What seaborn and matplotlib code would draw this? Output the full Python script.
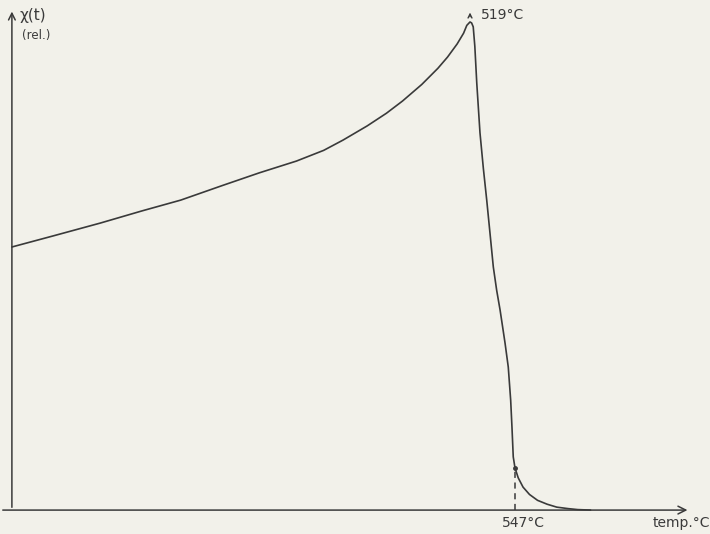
import matplotlib
matplotlib.use("Agg")
import matplotlib.pyplot as plt
import seaborn as sns
import pandas as pd

# values (temperature in °C, relative susceptibility)
temp = [234, 260, 289, 315, 339, 365, 388, 411, 428, 440, 455, 467, 477,
        489, 499, 505, 511, 515, 517, 519,
        520, 521, 522, 523.2, 525.2, 527.3, 529.4, 531.5, 533.5, 535.6, 537.7,
        539.3, 540.8, 542.8, 544.3, 545.1, 545.9, 547,
        549, 552, 556, 561, 567, 573, 580, 586, 594]
chi = [0.539, 0.562, 0.588, 0.613, 0.635, 0.665, 0.691, 0.715, 0.737, 0.758, 0.787, 0.813, 0.838,
       0.872, 0.905, 0.928, 0.955, 0.977, 0.993, 1.000,
       0.998, 0.990, 0.950, 0.875, 0.773, 0.700, 0.635, 0.565, 0.498, 0.450, 0.410,
       0.375, 0.342, 0.293, 0.225, 0.170, 0.109, 0.086,
       0.066, 0.047, 0.032, 0.020, 0.012, 0.006, 0.003, 0.001, 0.0]

peak_temp = 519
curie_temp = 547
curie_chi = 0.086

df = pd.DataFrame({"temp": temp, "chi": chi})

sns.set_style("white")
plt.rcParams["font.family"] = ["DejaVu Sans"]

bg = "#f2f1ea"
ink = "#3a3a3a"

fig = plt.figure(figsize=(7.1, 5.34), dpi=100, facecolor=bg)
ax = fig.add_axes([0, 0, 1, 1], facecolor=bg)

sns.lineplot(data=df, x="temp", y="chi", ax=ax, color=ink, linewidth=1.2,
             sort=False, estimator=None)

ax.set_xlim(226.6, 668.3)
ax.set_ylim(-0.049, 1.045)
for s in ax.spines.values():
    s.set_visible(False)
ax.set_xticks([])
ax.set_yticks([])
ax.set_xlabel("")
ax.set_ylabel("")

# axes drawn as arrows
ax.annotate("", xy=(656, 0), xytext=(226.6, 0),
            arrowprops=dict(arrowstyle="->", color=ink, lw=1.1,
                            mutation_scale=14))
ax.annotate("", xy=(234, 1.027), xytext=(234, 0),
            arrowprops=dict(arrowstyle="->", color=ink, lw=1.1,
                            mutation_scale=12))

# peak marker
ax.annotate("", xy=(peak_temp, 1.025), xytext=(peak_temp, 1.005),
            arrowprops=dict(arrowstyle="->", color=ink, lw=1.0,
                            mutation_scale=7))

# Curie point dashed drop line
ax.plot([curie_temp, curie_temp], [0, curie_chi], color=ink, lw=1.1,
        linestyle=(0, (4, 3)))
ax.plot([curie_temp], [curie_chi], marker="o", markersize=2.5, color=ink)

ax.text(239, 1.014, "χ(t)", fontsize=11, color=ink, ha="left", va="center")
ax.text(240, 0.973, "(rel.)", fontsize=8.5, color=ink, ha="left", va="center")
ax.text(525.8, 1.014, "519°C", fontsize=10, color=ink, ha="left", va="center")
ax.text(552, -0.027, "547°C", fontsize=10, color=ink, ha="center", va="center")
ax.text(650.3, -0.027, "temp.°C", fontsize=10, color=ink, ha="center", va="center")

fig.savefig("out.png", dpi=100, facecolor=bg)
